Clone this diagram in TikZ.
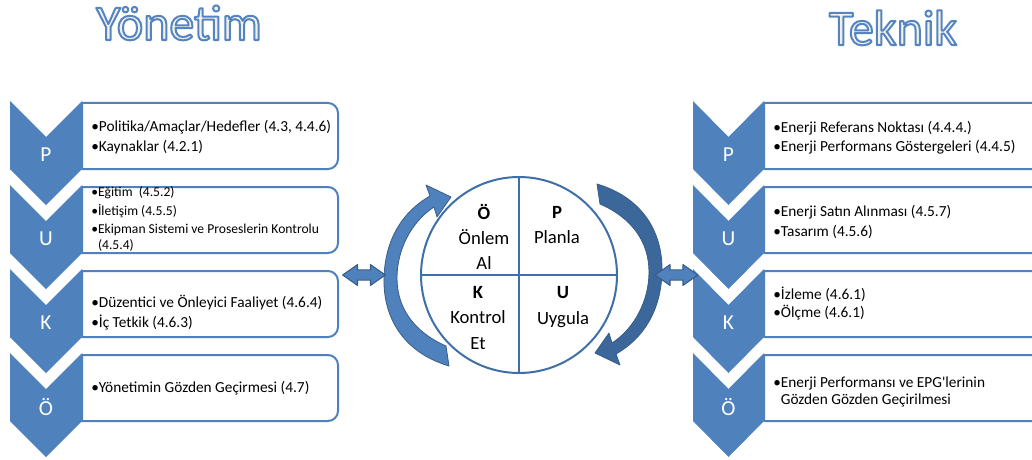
\documentclass[tikz,border=0pt]{standalone}
\usepackage{fontspec}
\setmainfont{Carlito}
\usetikzlibrary{shapes.arrows}
\definecolor{chevblue}{HTML}{4F81BD}
\definecolor{boxblue}{HTML}{4F81BD}
\definecolor{ringblue}{HTML}{3F6FA8}
\definecolor{arrowline}{HTML}{385D8A}
\definecolor{arrowdark}{HTML}{3B679B}
\definecolor{titlefill}{HTML}{F3F1E6}
% outlined title: fill colour from \color, stroke set in the pdf code
\newcommand\outlinetitle[1]{%
  {\color{titlefill}\special{pdf:code q 2 Tr 1.5 w 0.33 0.52 0.76 RG}#1\special{pdf:code Q}}}
\tikzset{
  infobox/.style={draw=boxblue, line width=1.5pt, fill=white},
  stage/.style={text=white, font=\fontsize{16}{18}\selectfont, inner sep=0pt},
  item/.style={anchor=west, align=left, inner sep=0pt},
  quarter/.style={align=center, inner sep=0pt, font=\fontsize{14}{19}\selectfont},
  title/.style={anchor=base, inner sep=0pt, font=\fontsize{37.5}{40}\selectfont},
  linkarrow/.style={double arrow, draw=arrowline, line width=0.8pt, fill=chevblue,
    minimum height=32pt, inner xsep=0pt, inner ysep=3.5pt,
    double arrow head extend=3.9pt, double arrow tip angle=70},
  cyclearrow/.style={draw=arrowline, line width=0.6pt, line join=round},
}
\def\cyclepath{(449,366) .. controls (402,352) and (383,316) .. (384,278)
  .. controls (385,240) and (402,212) .. (430,196) -- (426,185) -- (451,197)
  -- (437,217) -- (434,207) .. controls (411,222) and (397,250) .. (397,278)
  .. controls (397,308) and (414,332) .. (446,346) -- cycle}
\begin{document}
\begin{tikzpicture}[x=0.75pt, y=-0.75pt, font=\fontsize{11.5}{15}\selectfont, line join=round]
\useasboundingbox (0,0) rectangle (1032,460);
\clip (0,0) rectangle (1032,460);

% titles
\node[title] (yonetim) at (179,40) {\outlinetitle{Yönetim}};
\node[title] (teknik) at (893,45) {\outlinetitle{Teknik}};

% boxes and chevrons
\foreach \t/\l [count=\i] in {101/P,185/U,269/K,353/Ö}{
  \filldraw[infobox] (82,\t+2) [rounded corners=7.5pt] -- (338,\t+2) -- (338,\t+68) [sharp corners] -- (82,\t+68) -- cycle;
  \filldraw[infobox] (764,\t+2) [rounded corners=7.5pt] -- (1050,\t+2) -- (1050,\t+68) [sharp corners] -- (764,\t+68) -- cycle;
  \fill[chevblue] (10,\t)--(46,\t+36)--(82,\t)--(82,\t+68)--(46,\t+104)--(10,\t+68)--cycle;
  \fill[chevblue] (693,\t)--(728.5,\t+36)--(764,\t)--(764,\t+68)--(728.5,\t+104)--(693,\t+68)--cycle;
  \node[stage] (yon\i) at (46,\t+54) {\l};
  \node[stage] (tek\i) at (728.5,\t+54) {\l};
}

% left texts
\node[item] (yon1-txt) at (91,137) {•Politika/Amaçlar/Hedefler (4.3, 4.4.6)\\•Kaynaklar (4.2.1)};
\node[item, font=\fontsize{10.2}{13.9}\selectfont] (yon2-txt) at (91,219)
  {•Eğitim\ \ (4.5.2)\\•İletişim (4.5.5)\\•Ekipman Sistemi ve Proseslerin Kontrolu\\[-2.5pt]\phantom{•}(4.5.4)};
\node[item] (yon3-txt) at (91,313) {•Düzentici ve Önleyici Faaliyet (4.6.4)\\•İç Tetkik (4.6.3)};
\node[item] (yon4-txt) at (91,388) {•Yönetimin Gözden Geçirmesi (4.7)};

% right texts
\node[item] (tek1-txt) at (773,137.5) {•Enerji Referans Noktası (4.4.4.)\\[-1pt]•Enerji Performans Göstergeleri (4.4.5)};
\node[item] (tek2-txt) at (773,222) {•Enerji Satın Alınması (4.5.7)\\•Tasarım (4.5.6)};
\node[item] (tek3-txt) at (773,304) {•İzleme (4.6.1)\\[-1.5pt]•Ölçme (4.6.1)};
\node[item] (tek4-txt) at (773,391.5) {•Enerji Performansı ve EPG\textquotesingle lerinin\\[-2.2pt]\phantom{•}Gözden Gözden Geçirilmesi};

% cycle
\node[circle, draw=ringblue, line width=1.5pt, fill=white, minimum size=147pt, inner sep=0pt] (cyc) at (519,275) {};
\draw[ringblue, line width=1.3pt] (cyc.north) -- (cyc.south) (cyc.west) -- (cyc.east);
\node[quarter] (q-o) at (484,237) {\textbf{Ö}\\Önlem\\Al};
\node[quarter] (q-p) at (557,225) {\textbf{P}\\Planla};
\node[quarter] (q-k) at (478,318) {\textbf{K}\\Kontrol\\Et};
\node[quarter] (q-u) at (563,307) {\textbf{U}\\Uygula};

% turning arrows
\filldraw[cyclearrow, fill=chevblue] \cyclepath;
\begin{scope}[rotate around={180:(523,275)}]
  \filldraw[cyclearrow, fill=arrowdark] \cyclepath;
\end{scope}

% links
\node[linkarrow] (link-l) at (364,275) {};
\node[linkarrow] (link-r) at (676.5,275) {};
\end{tikzpicture}
\end{document}
